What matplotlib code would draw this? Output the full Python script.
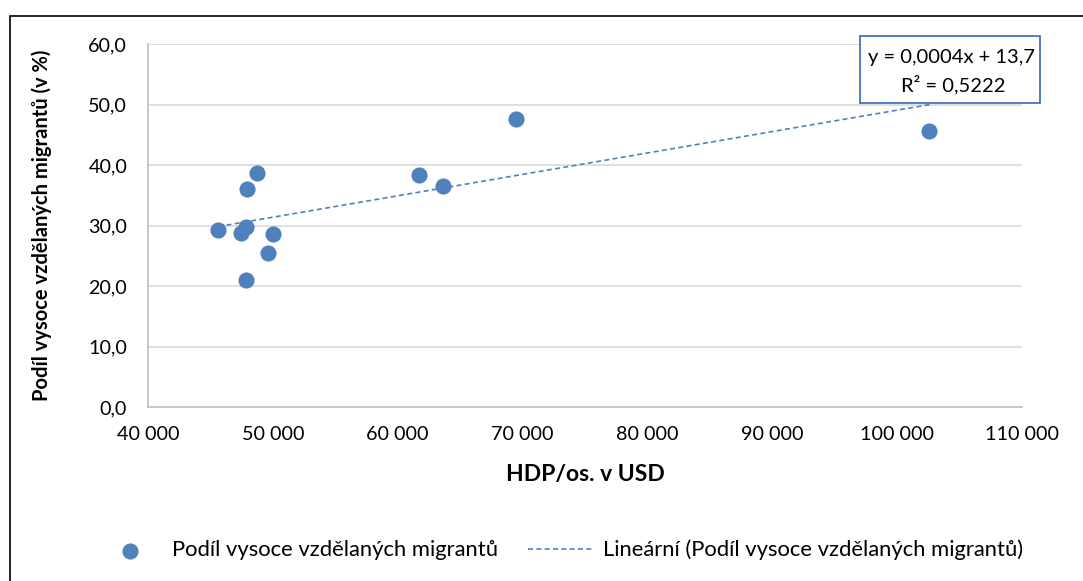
import matplotlib
matplotlib.use("Agg")
import matplotlib.pyplot as plt
import numpy as np
from matplotlib.patches import Rectangle

plt.rcParams['font.family'] = ['Lato', 'DejaVu Sans']

# Data (GDP per capita in USD, share of highly educated migrants in %)
gdp = [45630, 47450, 47850, 49990, 49590, 47850, 47900, 48700, 61730, 63650, 69470, 102580]
share = [29.3, 28.7, 29.7, 28.6, 25.5, 21.0, 36.0, 38.7, 38.4, 36.5, 47.6, 45.6]

x_ticks = [40000, 50000, 60000, 70000, 80000, 90000, 100000, 110000]
y_ticks = [0, 10, 20, 30, 40, 50, 60]
series_label = "Podíl vysoce vzdělaných migrantů"
trend_label = "Lineární (Podíl vysoce vzdělaných migrantů)"
eq_line1 = "y = 0,0004x + 13,7"
eq_line2 = "R² = 0,5222"

W, H = 1083, 581
fig = plt.figure(figsize=(W / 100, H / 100), dpi=100)
ax = fig.add_axes([148 / W, 1 - 407 / H, (1022 - 148) / W, (407 - 44) / H])

blue = '#4F81BD'
ax.scatter(gdp, share, s=135, color=blue, zorder=3, linewidths=0, label=series_label)

# linear trendline
xs = np.array(gdp, dtype=float)
ys = np.array(share, dtype=float)
k, q = np.polyfit(xs, ys, 1)
xl = np.array([xs.min(), xs.max()])
ax.plot(xl, k * xl + q, color=blue, lw=1.2, ls=(0, (3, 2)), zorder=2, label=trend_label)

ax.set_xlim(40000, 110000)
ax.set_ylim(0, 60)
ax.set_xticks(x_ticks)
ax.set_yticks(y_ticks)
ax.set_xticklabels([f"{v:,}".replace(",", " ") for v in x_ticks], fontsize=14.2)
ax.set_yticklabels([f"{v:.1f}".replace(".", ",") for v in y_ticks], fontsize=14.2)
ax.tick_params(axis='y', length=0, pad=15)
ax.tick_params(axis='x', length=0, pad=14)
ax.grid(axis='y', color='#D9D9D9', lw=1.2)
ax.set_axisbelow(True)
for s in ['top', 'right']:
    ax.spines[s].set_visible(False)
for s in ['left', 'bottom']:
    ax.spines[s].set_color('#BFBFBF')
    ax.spines[s].set_linewidth(1.2)

ax.set_xlabel("HDP/os. v USD", fontsize=16.5, fontweight='bold', labelpad=15)
ax.set_ylabel("Podíl vysoce vzdělaných migrantů (v %)", fontsize=14.5, fontweight='bold', labelpad=26)

# equation box
fig.patches.append(Rectangle((860 / W, 1 - 103 / H), 180 / W, 67 / H, transform=fig.transFigure,
                             facecolor='white', edgecolor='#4472C4', lw=1.3, zorder=5))
fig.text(951 / W, 1 - 57 / H, eq_line1, ha='center', va='center', fontsize=14.5, zorder=6)
fig.text(953 / W, 1 - 85 / H, eq_line2, ha='center', va='center', fontsize=14.5, zorder=6)

leg = fig.legend(loc='center', bbox_to_anchor=(560 / W, 1 - 550 / H), ncol=2, frameon=False,
                 fontsize=15.8, handlelength=3.0, columnspacing=1.4, handletextpad=0.4,
                 borderpad=0, borderaxespad=0)

# outer border
fig.patches.append(Rectangle((10 / W, -0.01), 1.02, 1 - 16 / H + 0.01, transform=fig.transFigure,
                             fill=False, edgecolor='black', lw=1.2))

fig.savefig("out.png", dpi=100)
